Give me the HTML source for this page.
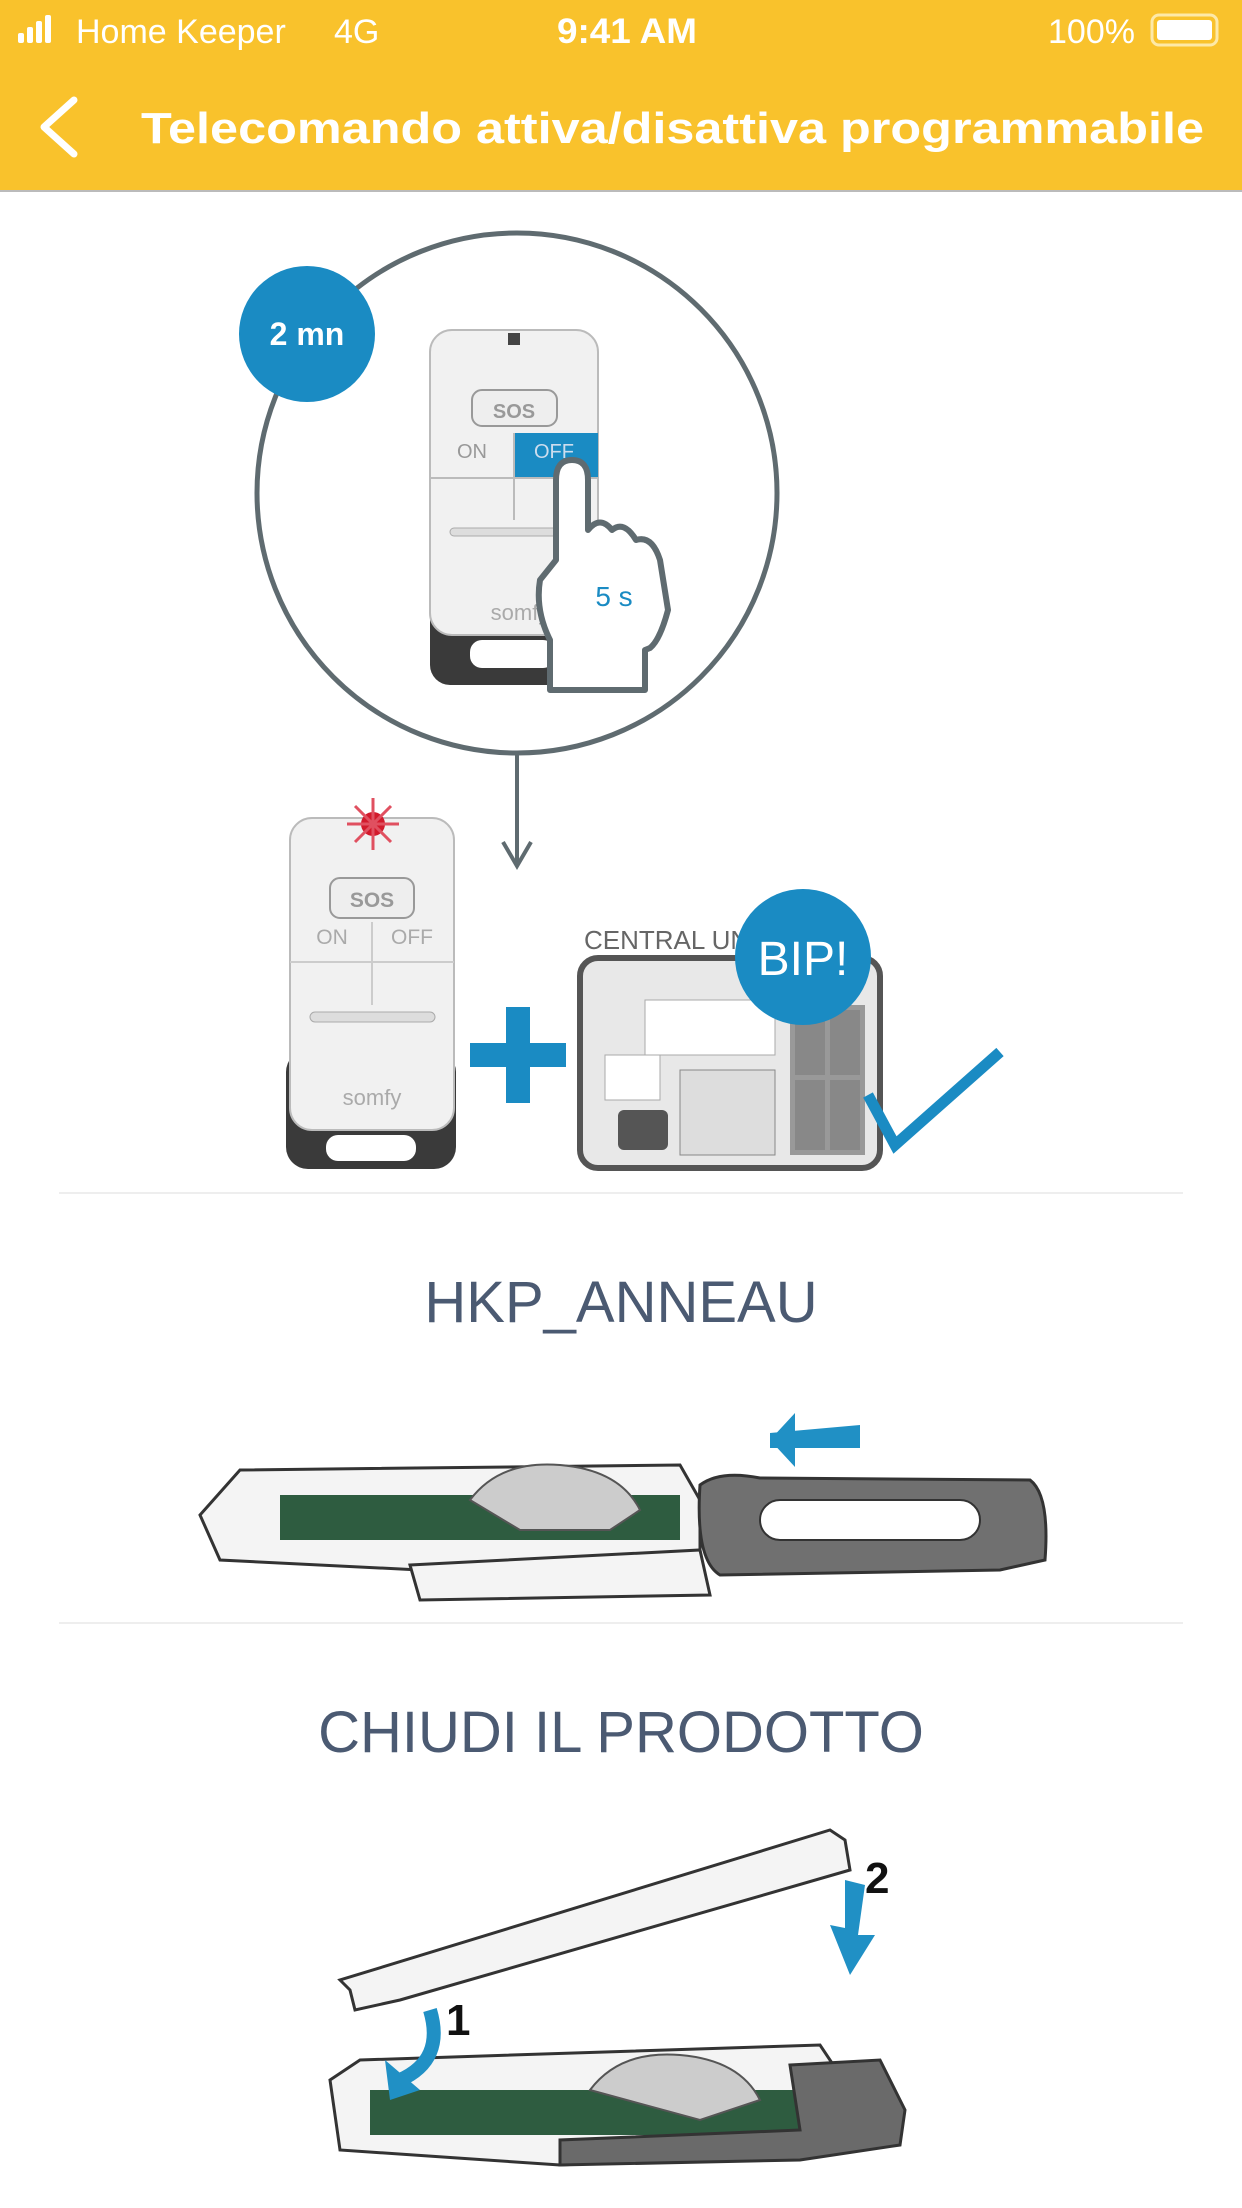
<!DOCTYPE html>
<html><head><meta charset="utf-8"><style>
html,body{margin:0;padding:0;width:1242px;height:2208px;background:#fff;overflow:hidden;font-family:"Liberation Sans",sans-serif}
</style></head><body>
<svg width="1242" height="2208" viewBox="0 0 1242 2208" xmlns="http://www.w3.org/2000/svg" font-family="Liberation Sans, sans-serif">
<rect x="0" y="0" width="1242" height="190" fill="#F9C22C"/>
<line x1="0" y1="191" x2="1242" y2="191" stroke="#bbb" stroke-width="2"/>
<g fill="#fff">
<rect x="18" y="33" width="6" height="10" rx="2"/><rect x="27" y="27" width="6" height="16" rx="2"/><rect x="36" y="21" width="6" height="22" rx="2"/><rect x="45" y="15" width="6" height="28" rx="2"/>
<text x="76" y="43" font-size="34">Home Keeper</text>
<text x="334" y="43" font-size="34">4G</text>
<text x="557" y="43" font-size="35" font-weight="bold" textLength="140" lengthAdjust="spacingAndGlyphs">9:41 AM</text>
<text x="1048" y="43" font-size="34">100%</text>
<rect x="1152" y="15" width="65" height="30" rx="7" fill="none" stroke="#fde9a8" stroke-width="3"/>
<rect x="1157" y="20" width="55" height="20" rx="3"/>
</g>
<polyline points="74,100 44,127 74,154" fill="none" stroke="#fff" stroke-width="7" stroke-linecap="round" stroke-linejoin="round"/>
<text x="141" y="143" font-size="44" font-weight="bold" fill="#fff" textLength="1063" lengthAdjust="spacingAndGlyphs">Telecomando attiva/disattiva programmabile</text>

<circle cx="517" cy="493" r="260" fill="#fff" stroke="#5f6b70" stroke-width="5"/>
<rect x="430" y="575" width="168" height="110" rx="20" fill="#3a3a3a"/>
<rect x="470" y="640" width="85" height="28" rx="12" fill="#fff"/>
<rect x="430" y="330" width="168" height="305" rx="22" fill="#f1f1f1" stroke="#bbb" stroke-width="2"/>
<rect x="508" y="333" width="12" height="12" fill="#444"/>
<rect x="472" y="390" width="85" height="36" rx="10" fill="#eee" stroke="#999" stroke-width="2"/>
<text x="514" y="418" font-size="20" fill="#999" text-anchor="middle" font-weight="bold">SOS</text>
<rect x="514" y="433" width="84" height="45" fill="#1a8bc3"/>
<text x="472" y="458" font-size="20" fill="#999" text-anchor="middle">ON</text>
<text x="554" y="458" font-size="20" fill="#cde" text-anchor="middle">OFF</text>
<line x1="430" y1="478" x2="598" y2="478" stroke="#bbb" stroke-width="2"/>
<line x1="514" y1="433" x2="514" y2="520" stroke="#bbb" stroke-width="2"/>
<rect x="450" y="528" width="125" height="8" rx="4" fill="#ddd" stroke="#aaa"/>
<text x="520" y="620" font-size="22" fill="#aaa" text-anchor="middle">somfy</text>
<path d="M556 480 Q556 460 572 460 Q588 460 588 480 L588 530 Q600 515 612 530 Q624 520 636 540 Q652 535 660 560 L668 610 Q660 640 650 648 L645 650 L645 690 L550 690 L550 640 Q535 610 540 580 L556 560 Z" fill="#fff" stroke="#5f6b70" stroke-width="6" stroke-linejoin="round"/>
<text x="614" y="606" font-size="28" fill="#1a8bc3" text-anchor="middle">5 s</text>
<circle cx="307" cy="334" r="68" fill="#1a8bc3"/>
<text x="307" y="345" font-size="32" font-weight="bold" fill="#fff" text-anchor="middle">2 mn</text>
<line x1="517" y1="755" x2="517" y2="864" stroke="#5f6b70" stroke-width="4"/>
<polyline points="503,842 517,866 531,842" fill="none" stroke="#5f6b70" stroke-width="4"/>

<rect x="286" y="1050" width="170" height="119" rx="22" fill="#3a3a3a"/>
<rect x="326" y="1135" width="90" height="26" rx="12" fill="#fff"/>
<rect x="290" y="818" width="164" height="312" rx="22" fill="#f1f1f1" stroke="#bbb" stroke-width="2"/>
<circle cx="373" cy="824" r="12" fill="#d21a2c"/>
<g stroke="#e05060" stroke-width="3"><line x1="373" y1="798" x2="373" y2="850"/><line x1="347" y1="824" x2="399" y2="824"/><line x1="355" y1="806" x2="391" y2="842"/><line x1="391" y1="806" x2="355" y2="842"/></g>
<rect x="330" y="878" width="84" height="40" rx="10" fill="#eee" stroke="#999" stroke-width="2"/>
<text x="372" y="907" font-size="21" fill="#999" text-anchor="middle" font-weight="bold">SOS</text>
<text x="332" y="944" font-size="21" fill="#aaa" text-anchor="middle">ON</text>
<text x="412" y="944" font-size="21" fill="#aaa" text-anchor="middle">OFF</text>
<line x1="290" y1="962" x2="454" y2="962" stroke="#ccc" stroke-width="2"/>
<line x1="372" y1="922" x2="372" y2="1005" stroke="#ccc" stroke-width="2"/>
<rect x="310" y="1012" width="125" height="10" rx="5" fill="#ddd" stroke="#aaa"/>
<text x="372" y="1105" font-size="22" fill="#aaa" text-anchor="middle">somfy</text>
<rect x="470" y="1043" width="96" height="24" fill="#1a8bc3"/>
<rect x="506" y="1007" width="24" height="96" fill="#1a8bc3"/>
<text x="584" y="949" font-size="26" fill="#666">CENTRAL UNIT</text>
<rect x="580" y="958" width="300" height="210" rx="18" fill="#e8e8e8" stroke="#555" stroke-width="6"/>
<rect x="645" y="1000" width="130" height="55" fill="#fff" stroke="#aaa"/>
<rect x="605" y="1055" width="55" height="45" fill="#fff" stroke="#aaa"/>
<rect x="618" y="1110" width="50" height="40" rx="6" fill="#555"/>
<rect x="680" y="1070" width="95" height="85" fill="#ddd" stroke="#888"/>
<rect x="790" y="1005" width="75" height="150" fill="#999"/>
<rect x="795" y="1010" width="30" height="65" fill="#888"/><rect x="830" y="1010" width="30" height="65" fill="#888"/>
<rect x="795" y="1080" width="30" height="70" fill="#888"/><rect x="830" y="1080" width="30" height="70" fill="#888"/>
<circle cx="803" cy="957" r="68" fill="#1a8bc3"/>
<text x="803" y="975" font-size="48" fill="#fff" text-anchor="middle">BIP!</text>
<polyline points="868,1095 895,1145 1000,1052" fill="none" stroke="#1a8bc3" stroke-width="11"/>

<line x1="59" y1="1193" x2="1183" y2="1193" stroke="#eee" stroke-width="2"/>
<text x="621" y="1322" font-size="58" fill="#4b5a72" text-anchor="middle">HKP_ANNEAU</text>
<polygon points="770,1448 860,1448 860,1425 770,1433" fill="#2090c5"/>
<polygon points="795,1413 770,1440 795,1467" fill="#2090c5"/>
<path d="M200 1515 L240 1470 L680 1465 L700 1500 L700 1560 L420 1570 L220 1560 Z" fill="#f4f4f4" stroke="#333" stroke-width="3"/>
<rect x="280" y="1495" width="400" height="45" fill="#2e5c40"/>
<path d="M470 1500 Q500 1460 560 1465 Q620 1470 640 1510 L610 1530 L520 1530 Z" fill="#ccc" stroke="#555" stroke-width="2"/>
<path d="M700 1485 Q720 1470 760 1478 L1030 1480 Q1050 1495 1045 1560 L1000 1570 L720 1575 Q695 1560 700 1485 Z" fill="#707070" stroke="#333" stroke-width="3"/>
<rect x="760" y="1500" width="220" height="40" rx="20" fill="#fff" stroke="#333" stroke-width="2"/>
<path d="M410 1565 L700 1550 L710 1595 L420 1600 Z" fill="#f4f4f4" stroke="#333" stroke-width="3"/>

<line x1="59" y1="1623" x2="1183" y2="1623" stroke="#eee" stroke-width="2"/>
<text x="621" y="1752" font-size="58" fill="#4b5a72" text-anchor="middle">CHIUDI IL PRODOTTO</text>
<path d="M350 1990 L355 2010 L400 2000 L850 1870 L845 1840 L830 1830 L340 1980 Z" fill="#f4f4f4" stroke="#333" stroke-width="3"/>
<path d="M330 2080 L360 2060 L820 2045 L850 2090 L850 2150 L560 2165 L340 2150 Z" fill="#f4f4f4" stroke="#333" stroke-width="3"/>
<rect x="370" y="2090" width="440" height="45" fill="#2e5c40"/>
<path d="M590 2090 Q620 2050 680 2055 Q740 2060 760 2100 L700 2120 Z" fill="#ccc" stroke="#555" stroke-width="2"/>
<path d="M790 2065 L880 2060 L905 2110 L900 2145 L800 2160 L560 2165 L560 2140 L800 2130 Z" fill="#6a6a6a" stroke="#333" stroke-width="3"/>
<text x="446" y="2035" font-size="44" font-weight="bold" fill="#111">1</text>
<path d="M430 2010 Q445 2060 400 2080" fill="none" stroke="#2090c5" stroke-width="14"/>
<polygon points="385,2060 390,2100 420,2090" fill="#2090c5"/>
<text x="865" y="1893" font-size="44" font-weight="bold" fill="#111">2</text>
<polygon points="845,1880 865,1885 858,1935 875,1935 850,1975 830,1925 845,1928" fill="#2090c5"/>
</svg>
</body></html>
